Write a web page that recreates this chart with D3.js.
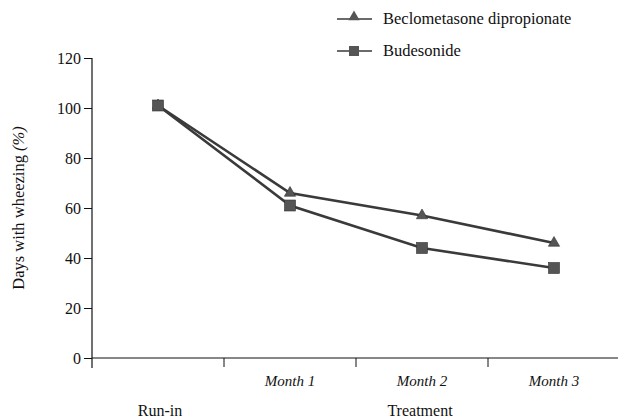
<!DOCTYPE html>
<html>
<head>
<meta charset="utf-8">
<script src="https://cdn.jsdelivr.net/npm/d3@7"></script>
<style>
body { margin: 0; background: #fff; }
svg text { font-family: 'Liberation Serif', serif; fill: #111; }
</style>
</head>
<body>
<script>
// chart data
var periods = ["Run-in", "Month 1", "Month 2", "Month 3"];
var monthLabels = ["Month 1", "Month 2", "Month 3"];
var beclometasone = [101, 66, 57, 46];
var budesonide = [101, 61, 44, 36];
var yTicks = [0, 20, 40, 60, 80, 100, 120];
var seriesNames = ["Beclometasone dipropionate", "Budesonide"];

var width = 618, height = 420;
var fs = 16;

var svg = d3.select("body").append("svg")
	.attr("width", width)
	.attr("height", height);

var x = d3.scaleBand()
	.domain(periods)
	.range([92, 620]);

var y = d3.scaleLinear()
	.domain([0, 120])
	.range([358, 58]);

var lineColor = "#3a3a3a";
var markColor = "#555";

// y axis
var yAxis = svg.append("g")
	.attr("transform", "translate(92,0)")
	.call(d3.axisLeft(y).tickValues(yTicks).tickSize(8).tickPadding(3));
yAxis.attr("font-family", null).attr("font-size", fs);
yAxis.select(".domain").remove();
yAxis.selectAll("line").attr("stroke", "#111");
svg.append("line")
	.attr("x1", 92).attr("x2", 92)
	.attr("y1", y(120)).attr("y2", 368)
	.attr("stroke", "#111").attr("stroke-width", 1.2);

// x axis line + boundary ticks
svg.append("line")
	.attr("x1", 92).attr("x2", width)
	.attr("y1", y(0)).attr("y2", y(0))
	.attr("stroke", "#111").attr("stroke-width", 1.2);
svg.selectAll(".xtick")
	.data(monthLabels)
	.enter().append("line")
	.attr("class", "xtick")
	.attr("x1", function (d) { return x(d); })
	.attr("x2", function (d) { return x(d); })
	.attr("y1", y(0))
	.attr("y2", y(0) + 9)
	.attr("stroke", "#111");

// month labels
svg.selectAll(".mlabel")
	.data(monthLabels)
	.enter().append("text")
	.attr("class", "mlabel")
	.attr("x", function (d) { return x(d) + x.bandwidth() / 2; })
	.attr("y", 386)
	.attr("text-anchor", "middle")
	.attr("font-size", 15)
	.attr("font-style", "italic")
	.text(function (d) { return d; });

svg.append("text")
	.attr("x", x("Run-in") + x.bandwidth() / 2 + 2)
	.attr("y", 416)
	.attr("text-anchor", "middle")
	.attr("font-size", fs)
	.text("Run-in");

svg.append("text")
	.attr("x", x("Month 2") + x.bandwidth() / 2 - 2)
	.attr("y", 416)
	.attr("text-anchor", "middle")
	.attr("font-size", fs)
	.text("Treatment");

// y label
var yLabel = svg.append("text")
	.attr("transform", "translate(24," + 208 + ") rotate(-90)")
	.attr("text-anchor", "middle")
	.attr("font-size", 16.5);
yLabel.append("tspan").text("Days with wheezing ");
yLabel.append("tspan").attr("font-style", "italic").text("(%)");

// lines
var line = d3.line()
	.x(function (d, i) { return x(periods[i]) + x.bandwidth() / 2; })
	.y(function (d) { return y(d); });

[beclometasone, budesonide].forEach(function (s) {
	svg.append("path")
		.datum(s)
		.attr("d", line)
		.attr("fill", "none")
		.attr("stroke", lineColor)
		.attr("stroke-width", 2.6);
});

var triangle = d3.symbol().type(d3.symbolTriangle).size(55);

svg.selectAll(".tri")
	.data(beclometasone)
	.enter().append("path")
	.attr("class", "tri")
	.attr("d", triangle)
	.attr("transform", function (d, i) {
		return "translate(" + (x(periods[i]) + x.bandwidth() / 2) + "," + y(d) + ")";
	})
	.attr("fill", markColor)
	.attr("stroke", "#333")
	.attr("stroke-width", 0.6);

svg.selectAll(".sq")
	.data(budesonide)
	.enter().append("rect")
	.attr("class", "sq")
	.attr("x", function (d, i) { return x(periods[i]) + x.bandwidth() / 2 - 5.5; })
	.attr("y", function (d) { return y(d) - 5.5; })
	.attr("width", 11)
	.attr("height", 11)
	.attr("fill", markColor)
	.attr("stroke", "#333")
	.attr("stroke-width", 0.6);

// legend
var legend = svg.append("g");
var legendY = [19, 51];
seriesNames.forEach(function (name, i) {
	legend.append("line")
		.attr("x1", 337).attr("x2", 372)
		.attr("y1", legendY[i]).attr("y2", legendY[i])
		.attr("stroke", lineColor)
		.attr("stroke-width", 1.4);
	if (i === 0) {
		legend.append("path")
			.attr("d", triangle)
			.attr("transform", "translate(354," + (legendY[i] - 2) + ")")
			.attr("fill", markColor);
	} else {
		legend.append("rect")
			.attr("x", 349).attr("y", legendY[i] - 5)
			.attr("width", 10).attr("height", 10)
			.attr("fill", markColor);
	}
	legend.append("text")
		.attr("x", 383)
		.attr("y", legendY[i] + 5)
		.attr("font-size", 16.5)
		.text(name);
});
</script>
</body>
</html>
